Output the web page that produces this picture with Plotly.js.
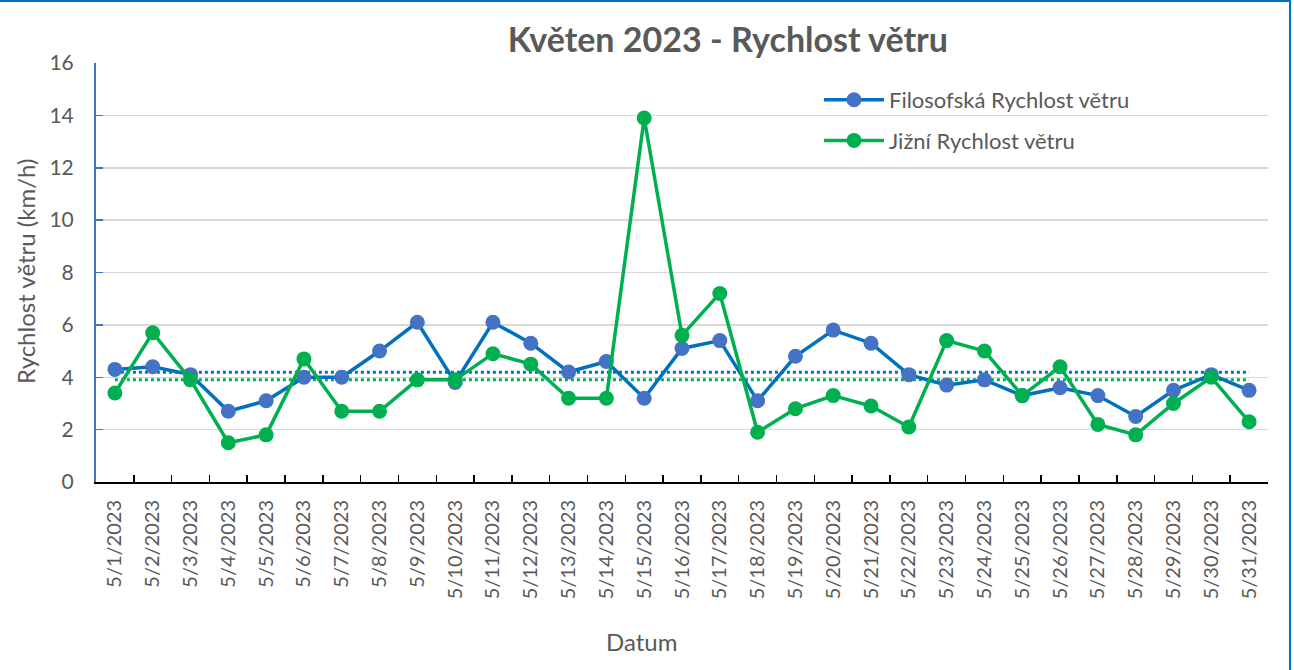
<!DOCTYPE html>
<html>
<head>
<meta charset="utf-8">
<script src="https://cdn.plot.ly/plotly-3.0.1.min.js"></script>
<style>
  html, body { margin: 0; padding: 0; background: #fff; }
  #wrap { position: relative; width: 1294px; height: 670px; }
  #chart { position: absolute; left: 0; top: 0; width: 1294px; height: 670px; }
  #frame { position: absolute; left: 0; top: 0; width: 1291px; height: 670px;
           border-top: 2px solid #0070C0; border-right: 2px solid #0070C0; box-sizing: border-box; pointer-events: none; }
</style>
</head>
<body>
<div id="wrap"><div id="chart"></div><div id="frame"></div></div>
<script>
const dates = ["5/1/2023","5/2/2023","5/3/2023","5/4/2023","5/5/2023","5/6/2023","5/7/2023","5/8/2023","5/9/2023","5/10/2023",
  "5/11/2023","5/12/2023","5/13/2023","5/14/2023","5/15/2023","5/16/2023","5/17/2023","5/18/2023","5/19/2023","5/20/2023",
  "5/21/2023","5/22/2023","5/23/2023","5/24/2023","5/25/2023","5/26/2023","5/27/2023","5/28/2023","5/29/2023","5/30/2023","5/31/2023"];
const filosofska = [4.3,4.4,4.1,2.7,3.1,4.0,4.0,5.0,6.1,3.8,6.1,5.3,4.2,4.6,3.2,5.1,5.4,3.1,4.8,5.8,5.3,4.1,3.7,3.9,3.3,3.6,3.3,2.5,3.5,4.1,3.5];
const jizni = [3.4,5.7,3.9,1.5,1.8,4.7,2.7,2.7,3.9,3.9,4.9,4.5,3.2,3.2,13.9,5.6,7.2,1.9,2.8,3.3,2.9,2.1,5.4,5.0,3.3,4.4,2.2,1.8,3.0,4.0,2.3];
const yTicks = [0,2,4,6,8,10,12,14,16];

const mean = a => a.reduce((s,v)=>s+v,0)/a.length;
const mF = mean(filosofska), mJ = mean(jizni);

const FONT = "Lato, 'Open Sans', sans-serif";
const GREY = "#595959";
const BLUE_L = "#0070C0", BLUE_M = "#4472C4", GREEN = "#00B050";

const traces = [
  { x: dates, y: dates.map(()=>mF), type: "scatter", mode: "lines", showlegend: false, hoverinfo: "skip",
    line: { color: BLUE_L, width: 3, dash: "dot" } },
  { x: dates, y: dates.map(()=>mJ), type: "scatter", mode: "lines", showlegend: false, hoverinfo: "skip",
    line: { color: GREEN, width: 3, dash: "dot" } },
  { x: dates, y: filosofska, type: "scatter", mode: "lines+markers", name: "Filosofská Rychlost větru", legendgroup: "f",
    line: { color: BLUE_L, width: 3.5 }, marker: { color: BLUE_M, size: 15 } },
  { x: dates, y: jizni, type: "scatter", mode: "lines+markers", name: "Jižní Rychlost větru", legendgroup: "j",
    line: { color: GREEN, width: 3.5 }, marker: { color: GREEN, size: 15 } }
];

const layout = {
  width: 1294, height: 670,
  margin: { l: 96, r: 26, t: 63, b: 188, pad: 0 },
  paper_bgcolor: "#fff", plot_bgcolor: "#fff",
  font: { family: FONT, color: GREY, size: 18 },
  title: { text: "<b>Květen 2023 - Rychlost větru</b>", x: 0.5625, xanchor: "center", y: 0.94, yanchor: "middle",
           font: { family: FONT, size: 34, color: GREY } },
  xaxis: {
    type: "category", range: [-0.5, 30.5], tickangle: -90,
    tickfont: { family: FONT, size: 20, color: GREY },
    showline: true, linecolor: "#000", linewidth: 2,
    ticks: "inside", tickson: "boundaries", ticklen: 7, tickcolor: "#000", tickwidth: 1.5,
    ticklabelstandoff: 8,
    showgrid: false, zeroline: false, automargin: false
  },
  yaxis: {
    range: [0, 16], tickvals: yTicks, ticktext: yTicks.map(String),
    tickfont: { family: FONT, size: 21, color: GREY },
    showline: true, linecolor: BLUE_M, linewidth: 2,
    ticks: "inside", ticklen: 7, tickcolor: BLUE_M, tickwidth: 1.5,
    showgrid: true, gridcolor: "#D9D9D9", gridwidth: 1.5, zeroline: false,
    ticklabelstandoff: 16,
    automargin: false
  },
  legend: {
    x: (819-96)/1172, y: (482-79)/419, xanchor: "left", yanchor: "top",
    bgcolor: "rgba(0,0,0,0)", borderwidth: 0,
    font: { family: FONT, size: 22, color: GREY },
    itemwidth: 60, tracegroupgap: 9
  },
  shapes: [
    { type: "rect", layer: "between", xref: "paper", yref: "y",
      x0: (674-96)/1172, x1: (1259-96)/1172, y0: 12.4, y1: 15.6,
      fillcolor: "#fff", line: { width: 0 } }
  ],
  annotations: [
    { text: "Datum", xref: "paper", yref: "paper", x: (641-96)/1172, y: -(641-482)/419,
      xanchor: "center", yanchor: "middle", showarrow: false, font: { family: FONT, size: 24, color: GREY } },
    { text: "Rychlost větru (km/h)", xref: "paper", yref: "paper", x: (25-96)/1172, y: (482-272)/419,
      xanchor: "center", yanchor: "middle", textangle: -90, showarrow: false, font: { family: FONT, size: 24, color: GREY } }
  ],
  showlegend: true
};

Plotly.newPlot("chart", traces, layout, { displayModeBar: false, staticPlot: true });
</script>
</body>
</html>
